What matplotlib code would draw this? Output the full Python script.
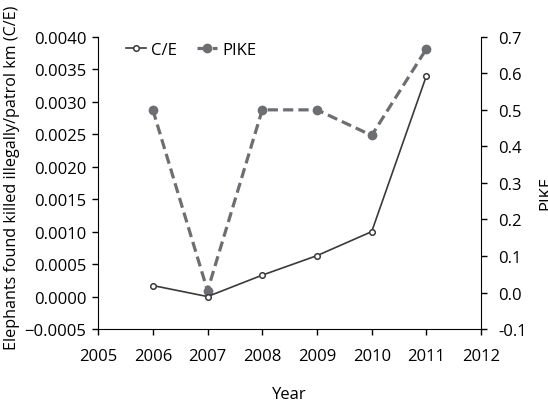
import matplotlib.pyplot as plt

plt.rcParams['font.family'] = ['Open Sans', 'DejaVu Sans']
plt.rcParams['font.size'] = 12

years = [2006, 2007, 2008, 2009, 2010, 2011]
ce = [0.00017, 0.0, 0.00033, 0.00063, 0.0010, 0.0034]
pike = [0.50, 0.005, 0.50, 0.50, 0.43, 0.667]

ce_ticks = [-0.0005, 0.0, 0.0005, 0.0010, 0.0015, 0.0020, 0.0025, 0.0030, 0.0035, 0.0040]
pike_ticks = [-0.1, 0.0, 0.1, 0.2, 0.3, 0.4, 0.5, 0.6, 0.7]
year_ticks = [2005, 2006, 2007, 2008, 2009, 2010, 2011, 2012]


def criaGrafico():
    fig = plt.figure(figsize=(5.48, 4.02), dpi=100)
    ax = fig.add_axes([0.179, 0.179, 0.699, 0.727])
    ax2 = ax.twinx()

    # C/E over PIKE
    ax.set_zorder(ax2.get_zorder() + 1)
    ax.patch.set_visible(False)

    l2, = ax2.plot(years, pike, color="#6d6e71", lw=2.3, dashes=(3.2, 1.6),
                   marker="o", ms=6, mfc="#6d6e71", mec="#6d6e71", label="PIKE")
    l1, = ax.plot(years, ce, color="#3a3a3a", lw=1.2, marker="o", ms=4,
                  mfc="white", mec="#3a3a3a", mew=1.1, label="C/E")

    ax.set_xlim(2005, 2012)
    ax.set_ylim(-0.0005, 0.0040)
    ax2.set_ylim(-0.1, 0.7)
    ax.set_xticks(year_ticks)
    ax.set_yticks(ce_ticks)
    ax.set_yticklabels(["\u22120.0005"] + ["%.4f" % v for v in ce_ticks[1:]])
    ax2.set_yticks(pike_ticks)
    ax2.set_yticklabels(["%.1f" % v for v in pike_ticks])

    for a in (ax, ax2):
        a.spines["top"].set_visible(False)
        a.tick_params(direction="out", length=4.5, width=1, labelsize=12)
    ax.spines["right"].set_visible(False)
    ax2.spines["left"].set_visible(False)
    ax2.spines["bottom"].set_visible(False)
    ax.tick_params(axis="x", pad=9)
    ax.tick_params(axis="y", pad=4)
    ax2.tick_params(axis="y", pad=8)

    ax.set_xlabel("Year")
    ax.xaxis.set_label_coords(0.5, -0.195)
    ax.set_ylabel("Elephants found killed illegally/patrol km (C/E)", fontsize=11.6)
    ax.yaxis.set_label_coords(-0.205, 0.52)
    fig.text(0.982, 0.52, "PIKE", rotation=90, ha="left", va="center", fontsize=12)

    ax.legend([l1, l2], ["C/E", "PIKE"], loc="upper left", ncol=2, frameon=False,
              handlelength=1.2, handletextpad=0.3, columnspacing=1.2,
              bbox_to_anchor=(0.035, 1.035))

    fig.savefig("out.png", dpi=100)


if __name__ == "__main__":
    criaGrafico()
